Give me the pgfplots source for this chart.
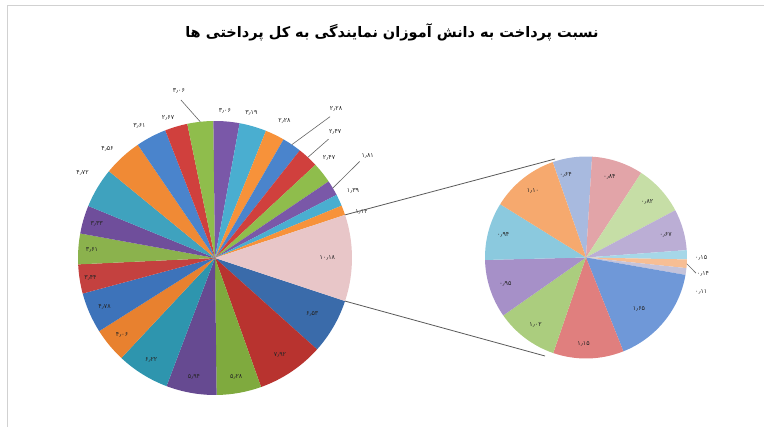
\documentclass[border=0pt]{standalone}
\usepackage{pgfplots}
\pgfplotsset{compat=1.18}
\usepackage{pgfplotstable}
\usepackage{fontspec}
\setmainfont{Liberation Sans}
\newfontfamily\arabicfont[Script=Arabic]{DejaVu Sans}
\TeXXeTstate=1

% main pie colours
\definecolor{m1}{HTML}{3A6BAA}\definecolor{m2}{HTML}{B8332F}\definecolor{m3}{HTML}{7FAA3E}
\definecolor{m4}{HTML}{664A91}\definecolor{m5}{HTML}{2E95AE}\definecolor{m6}{HTML}{E8812F}
\definecolor{mb1}{HTML}{3D73BA}\definecolor{mb2}{HTML}{C4413F}\definecolor{mb3}{HTML}{8BB24D}
\definecolor{mb4}{HTML}{6F4E9B}\definecolor{mb5}{HTML}{3FA2BE}\definecolor{mb6}{HTML}{F08A35}
\definecolor{mc1}{HTML}{4A84CC}\definecolor{mc2}{HTML}{D0403D}\definecolor{mc3}{HTML}{8FBD4C}
\definecolor{mc4}{HTML}{7A58A8}\definecolor{mc5}{HTML}{4AAED0}\definecolor{mc6}{HTML}{F7923A}
\definecolor{pk}{HTML}{E8C6C8}
% second pie colours
\definecolor{s1}{HTML}{A8BADF}\definecolor{s2}{HTML}{E2A4A8}\definecolor{s3}{HTML}{C6DEA6}
\definecolor{s4}{HTML}{BBAED5}\definecolor{s5}{HTML}{A6D7E8}\definecolor{s6}{HTML}{F7BE94}
\definecolor{s7}{HTML}{C5C3DA}\definecolor{s8}{HTML}{6F98D8}\definecolor{s9}{HTML}{E07F7E}
\definecolor{s10}{HTML}{ABCD7E}\definecolor{s11}{HTML}{A690C8}\definecolor{s12}{HTML}{8BC9DE}
\definecolor{s13}{HTML}{F6A96E}

\pgfplotstableread{
val   col lab    lr   la  lead
6.53  m1  ۶٫۵۳  0.82 0   0
7.92  m2  ۷٫۹۲  0.85 0   0
5.28  m3  ۵٫۲۸  0.88 0   0
5.94  m4  ۵٫۹۴  0.88 0   0
6.22  m5  ۶٫۲۲  0.88 0   0
4.06  m6  ۴٫۰۶  0.88 0   0
4.78  mb1 ۴٫۷۸  0.88 0   0
3.44  mb2 ۳٫۴۴  0.92 0   0
3.61  mb3 ۳٫۶۱  0.90 0   0
3.33  mb4 ۳٫۳۳  0.90 0   0
4.72  mb5 ۴٫۷۲  1.15 -2  0
4.56  mb6 ۴٫۵۶  1.12 2   0
3.61  mc1 ۳٫۶۱  1.11 2   0
2.67  mc2 ۲٫۶۷  1.08 2   0
3.06  mc3 ۳٫۰۶  1.25 6   1
3.06  mc4 ۳٫۰۶  1.08 1   0
3.19  mc5 ۳٫۱۹  1.09 2   0
2.28  mc6 ۲٫۲۸  1.12 -1  0
2.28  mc1 ۲٫۲۸  1.40 -5  1
2.47  mc2 ۲٫۴۷  1.27 -1  1
2.47  mc3 ۲٫۴۷  1.11 3   0
1.81  mc4 ۱٫۸۱  1.34 3   1
1.39  mc5 ۱٫۳۹  1.12 1   0
1.14  mc6 ۱٫۱۴  1.12 -3  0
10.18 pk  ۱۰٫۱۸ 0.82 0   0
}\maintable

\pgfplotstableread{
val  col lab    lr   la   lead
0.64 s1  ۰٫۶۴  0.84 6    0
0.84 s2  ۰٫۸۴  0.83 2    0
0.82 s3  ۰٫۸۲  0.82 0    0
0.67 s4  ۰٫۶۷  0.82 0    0
0.15 s5  ۰٫۱۵  1.14 -1.5 0
0.14 s6  ۰٫۱۴  1.17 -4.5 1
0.11 s7  ۰٫۱۱  1.19 -8.5 0
1.65 s8  ۱٫۶۵  0.73 -5   0
1.15 s9  ۱٫۱۵  0.86 -3   0
1.02 s10 ۱٫۰۲  0.83 0    0
0.95 s11 ۰٫۹۵  0.84 0    0
0.94 s12 ۰٫۹۴  0.85 0    0
1.10 s13 ۱٫۱۰  0.84 0    0
}\secondtable

\def\lblfont{\arabicfont\fontsize{6.3}{7}\selectfont}

% #1 table, #2 cx, #3 cy, #4 radius, #5 start angle
\newcommand\drawpie[5]{%
  \pgfplotstablegetrowsof{#1}\pgfmathtruncatemacro\pnrows{\pgfplotsretval-1}%
  \def\ptot{0}%
  \pgfplotsforeachungrouped \i in {0,...,\pnrows}{%
    \pgfplotstablegetelem{\i}{val}\of#1%
    \pgfmathsetmacro\ptot{\ptot+\pgfplotsretval}}%
  \pgfmathsetmacro\pcur{#5}%
  \pgfplotsforeachungrouped \i in {0,...,\pnrows}{%
    \pgfplotstablegetelem{\i}{val}\of#1\let\pval\pgfplotsretval
    \pgfplotstablegetelem{\i}{col}\of#1\let\pcol\pgfplotsretval
    \pgfmathsetmacro\pnxt{\pcur-\pval/\ptot*360}%
    \edef\temp{\noexpand\fill[\pcol] (axis cs:#2,#3) -- ++(\pcur:#4pt) arc[start angle=\pcur,end angle=\pnxt,radius=#4pt] -- cycle;}\temp
    \let\pcur\pnxt}%
  \pgfmathsetmacro\pcur{#5}%
  \pgfplotsforeachungrouped \i in {0,...,\pnrows}{%
    \pgfplotstablegetelem{\i}{val}\of#1\let\pval\pgfplotsretval
    \pgfplotstablegetelem{\i}{lab}\of#1\let\plab\pgfplotsretval
    \pgfplotstablegetelem{\i}{lr}\of#1\let\plr\pgfplotsretval
    \pgfplotstablegetelem{\i}{la}\of#1\let\pla\pgfplotsretval
    \pgfplotstablegetelem{\i}{lead}\of#1\let\pld\pgfplotsretval
    \pgfmathsetmacro\pnxt{\pcur-\pval/\ptot*360}%
    \pgfmathsetmacro\pmid{(\pcur+\pnxt)/2}%
    \pgfmathsetmacro\plx{#2+\plr*#4*cos(\pmid+\pla)}%
    \pgfmathsetmacro\ply{#3+\plr*#4*sin(\pmid+\pla)}%
    \edef\temp{\noexpand\node[inner sep=0pt,text=black!85] at (axis cs:\plx,\ply) {\noexpand\lblfont \plab};}\temp
    \ifnum\pld=1
      \pgfmathsetmacro\pax{#2+#4*cos(\pmid)}%
      \pgfmathsetmacro\pay{#3+#4*sin(\pmid)}%
      \pgfmathsetmacro\pbx{#2+(\plr-0.07)*#4*cos(\pmid+\pla)}%
      \pgfmathsetmacro\pby{#3+(\plr-0.07)*#4*sin(\pmid+\pla)}%
      \edef\temp{\noexpand\draw[black!60,line width=0.6pt] (axis cs:\pax,\pay) -- (axis cs:\pbx,\pby);}\temp
    \fi
    \let\pcur\pnxt}%
}

\begin{document}
\begin{tikzpicture}
\begin{axis}[x=1pt,y=1pt,xmin=0,xmax=764,ymin=0,ymax=427,hide axis,clip=false]
  % chart frame (partly visible)
  \draw[black!18,line width=1pt] (axis cs:7,0) -- (axis cs:7,421) -- (axis cs:764,421);
  % main pie: last slice ("other") centred on 0 degrees
  \drawpie{\maintable}{215}{169}{137}{-18.32}
  % second pie
  \drawpie{\secondtable}{586}{169.5}{101}{109.2}
  % connector lines
  \draw[black!65,line width=0.8pt] (axis cs:345,212.1) -- (axis cs:555,268);
  \draw[black!65,line width=0.8pt] (axis cs:345,125.9) -- (axis cs:545,71);
  % title
  \node at (axis cs:392,395) {\arabicfont\bfseries\fontsize{14.5}{17}\selectfont\beginR نسبت پرداخت به دانش آموزان نمایندگی به کل پرداختی ها\endR};
\end{axis}
\pgfresetboundingbox
\path (current axis.south west) rectangle (current axis.north east);
\end{tikzpicture}
\end{document}
